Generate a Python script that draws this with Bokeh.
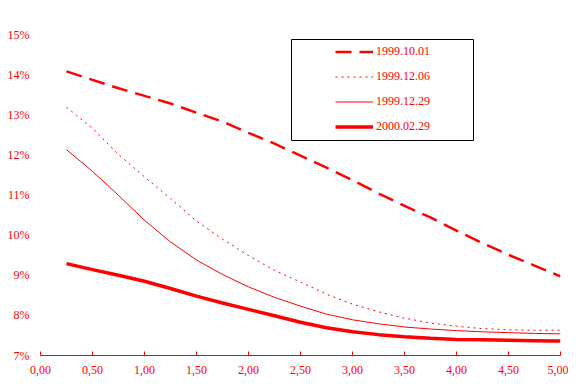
from bokeh.plotting import figure
from bokeh.models import Range1d, FixedTicker, Legend, LegendItem, BoxAnnotation
from bokeh.embed import file_html
from bokeh.resources import INLINE

# ---- data ----
maturity = [0.25, 0.5, 0.75, 1.0, 1.25, 1.5, 1.75, 2.0, 2.25, 2.5,
            2.75, 3.0, 3.25, 3.5, 3.75, 4.0, 4.25, 4.5, 4.75, 5.0]
s_19991001 = [14.08, 13.87, 13.66, 13.47, 13.28, 13.05, 12.83, 12.55, 12.28, 11.98,
              11.68, 11.37, 11.04, 10.73, 10.44, 10.11, 9.80, 9.51, 9.24, 8.97]
s_19991206 = [13.19, 12.66, 12.01, 11.45, 10.91, 10.35, 9.90, 9.49, 9.12, 8.83,
              8.53, 8.28, 8.09, 7.93, 7.81, 7.73, 7.67, 7.64, 7.63, 7.63]
s_19991229 = [12.13, 11.59, 10.99, 10.37, 9.83, 9.38, 9.02, 8.71, 8.45, 8.23,
              8.03, 7.89, 7.79, 7.71, 7.66, 7.62, 7.59, 7.57, 7.55, 7.54]
s_20000229 = [9.29, 9.14, 9.00, 8.85, 8.67, 8.48, 8.31, 8.15, 7.99, 7.83,
              7.69, 7.59, 7.52, 7.47, 7.43, 7.40, 7.39, 7.38, 7.37, 7.36]
series_labels = ["1999.10.01", "1999.12.06", "1999.12.29", "2000.02.29"]

x_ticks = [0.0, 0.5, 1.0, 1.5, 2.0, 2.5, 3.0, 3.5, 4.0, 4.5, 5.0]
x_tick_labels = ["0,00", "0,50", "1,00", "1,50", "2,00", "2,50",
                 "3,00", "3,50", "4,00", "4,50", "5,00"]
y_ticks = [7, 8, 9, 10, 11, 12, 13, 14, 15]
y_tick_labels = ["7%", "8%", "9%", "10%", "11%", "12%", "13%", "14%", "15%"]

RED = "#FF0000"
FONT = "Liberation Serif"

p = figure(frame_width=520, frame_height=321, output_backend="svg", toolbar_location=None,
           x_range=Range1d(0, 5), y_range=Range1d(7, 15),
           min_border_left=40, min_border_right=8, min_border_top=34,
           min_border_bottom=10)
p.outline_line_color = None
p.xgrid.visible = False
p.ygrid.visible = False
p.background_fill_color = "white"

# x axis
xa = p.xaxis[0]
xa.ticker = FixedTicker(ticks=x_ticks)
xa.major_label_overrides = {t: l for t, l in zip(x_ticks, x_tick_labels)}
xa.axis_line_color = RED
xa.major_tick_line_color = RED
xa.major_tick_in = 4
xa.major_tick_out = 0
xa.minor_tick_line_color = None
xa.major_label_standoff = 10
xa.major_label_text_color = RED
xa.major_label_text_font = FONT
xa.major_label_text_font_size = "12px"

# y axis
ya = p.yaxis[0]
ya.ticker = FixedTicker(ticks=y_ticks)
ya.major_label_overrides = {t: l for t, l in zip(y_ticks, y_tick_labels)}
ya.axis_line_color = None
ya.major_tick_line_color = None
ya.major_tick_in = 0
ya.major_tick_out = 0
ya.minor_tick_line_color = None
ya.major_label_standoff = 11
ya.major_label_text_color = RED
ya.major_label_text_font = FONT
ya.major_label_text_font_size = "12px"

r1 = p.line(maturity, s_19991001, line_color=RED, line_width=2.5, line_dash="16 8")
r2 = p.line(maturity, s_19991206, line_color=RED, line_width=1, line_dash="2 4")
r3 = p.line(maturity, s_19991229, line_color=RED, line_width=1)
r4 = p.line(maturity, s_20000229, line_color=RED, line_width=3.5)

# legend frame
frame = BoxAnnotation(left=251, right=433, bottom=215, top=316,
                      left_units="screen", right_units="screen",
                      bottom_units="screen", top_units="screen",
                      fill_alpha=0, line_color="black", line_width=1, line_alpha=1)
p.add_layout(frame)

legend = Legend(items=[LegendItem(label=l, renderers=[r]) for l, r in
                       zip(series_labels, [r1, r2, r3, r4])],
                location=(295, 216), padding=0, spacing=0, margin=0,
                glyph_width=38, glyph_height=25, label_height=25,
                label_standoff=3, border_line_alpha=0, background_fill_alpha=0,
                label_text_color=RED, label_text_font=FONT,
                label_text_font_size="12px")
p.add_layout(legend)

open("out.html", "w").write(file_html(p, INLINE))
